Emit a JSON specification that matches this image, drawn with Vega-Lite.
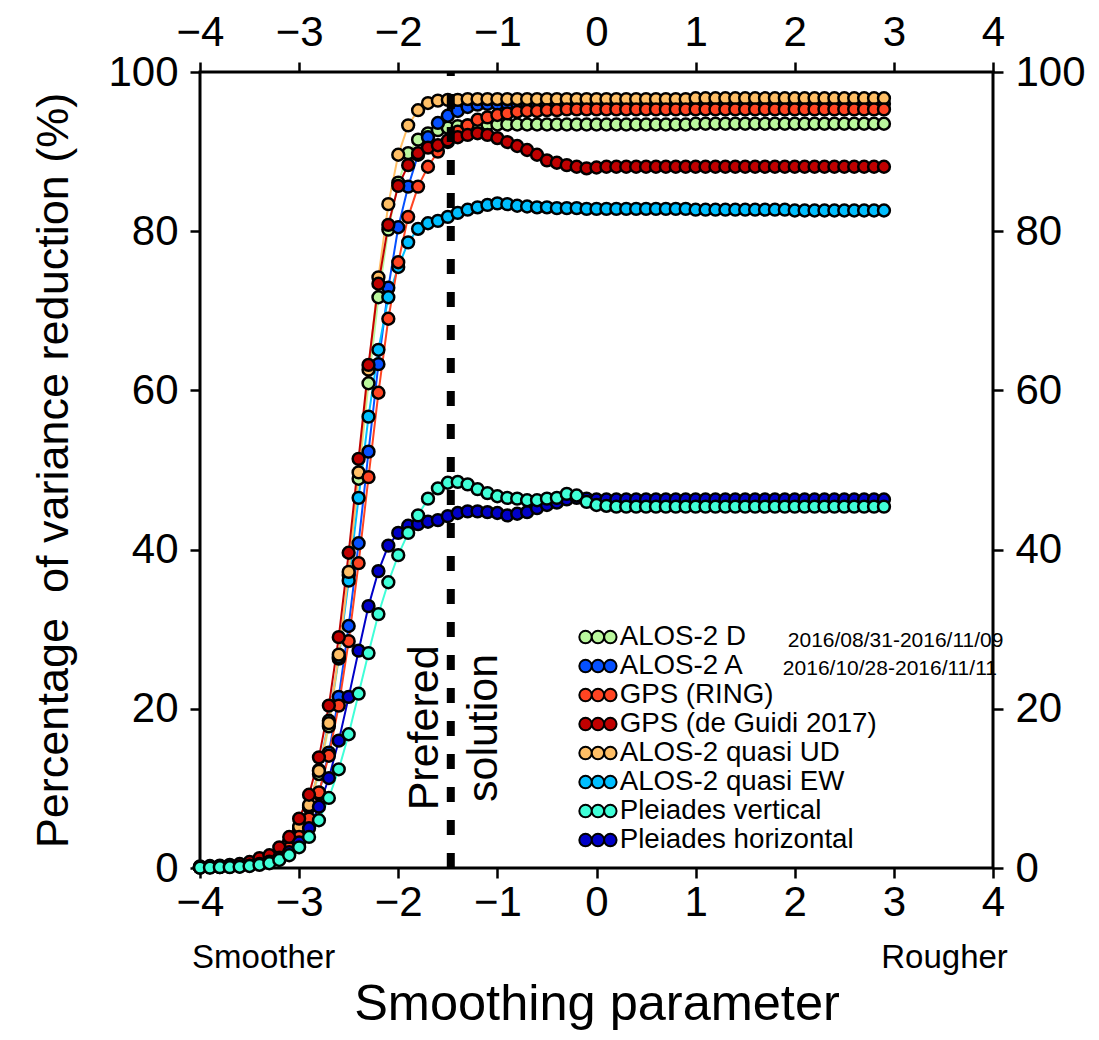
{
  "$schema": "https://vega.github.io/schema/vega-lite/v6.json",
  "width": 793,
  "height": 796,
  "autosize": {"type": "none"},
  "padding": {"left": 200, "top": 72, "right": 106, "bottom": 172},
  "config": {
    "font": "Liberation Sans",
    "view": {"stroke": "black", "strokeWidth": 3},
    "axis": {
      "domain": false,
      "grid": false,
      "tickColor": "black",
      "tickSize": 10,
      "tickWidth": 2.5,
      "labelColor": "black",
      "labelFont": "Liberation Sans",
      "labelFontSize": 42,
      "titleColor": "black",
      "titleFont": "Liberation Sans",
      "titleFontWeight": "normal",
      "labelFlush": false,
      "labelOverlap": false
    },
    "legend": {
      "orient": "none",
      "title": null,
      "padding": 0,
      "symbolStrokeColor": "black",
      "symbolStrokeWidth": 2,
      "symbolOpacity": 1,
      "labelFont": "Liberation Sans",
      "labelColor": "black",
      "labelLimit": 0
    }
  },
  "data": {
    "values": [
      {"series": "ALOS-2 D",
       "x": [-4,-3.9,-3.8,-3.7,-3.6,-3.5,-3.4,-3.3,-3.2,-3.1,-3,-2.9,-2.8,-2.7,-2.6,-2.5,-2.4,-2.3,-2.2,-2.1,-2,-1.9,-1.8,-1.7,-1.6,-1.5,-1.4,-1.3,-1.2,-1.1,-1,-0.9,-0.8,-0.7,-0.6,-0.5,-0.4,-0.3,-0.2,-0.1,0,0.1,0.2,0.3,0.4,0.5,0.6,0.7,0.8,0.9,1,1.1,1.2,1.3,1.4,1.5,1.6,1.7,1.8,1.9,2,2.1,2.2,2.3,2.4,2.5,2.6,2.7,2.8,2.9],
       "vr": [0.1,0.15,0.2,0.25,0.35,0.5,0.8,1.2,2.0,3.2, 5.0,7.6,11.8,17.8,26.3,36.8,48.9,60.9,71.7,80.2, 86.1,89.8,91.5,92.3,92.7,93.0,93.2,93.3,93.4,93.4, 93.4,93.4,93.4,93.4,93.4,93.4,93.4,93.4,93.4,93.4, 93.4,93.4,93.4,93.4,93.4,93.4,93.4,93.4,93.4,93.4, 93.5,93.5,93.5,93.5,93.5,93.5,93.5,93.5,93.5,93.5, 93.5,93.5,93.5,93.5,93.5,93.5,93.5,93.5,93.5,93.5]},
      {"series": "ALOS-2 A",
       "x": [-4,-3.9,-3.8,-3.7,-3.6,-3.5,-3.4,-3.3,-3.2,-3.1,-3,-2.9,-2.8,-2.7,-2.6,-2.5,-2.4,-2.3,-2.2,-2.1,-2,-1.9,-1.8,-1.7,-1.6,-1.5,-1.4,-1.3,-1.2,-1.1,-1,-0.9,-0.8,-0.7,-0.6,-0.5,-0.4,-0.3,-0.2,-0.1,0,0.1,0.2,0.3,0.4,0.5,0.6,0.7,0.8,0.9,1,1.1,1.2,1.3,1.4,1.5,1.6,1.7,1.8,1.9,2,2.1,2.2,2.3,2.4,2.5,2.6,2.7,2.8,2.9],
       "vr": [0.1,0.1,0.15,0.2,0.25,0.35,0.55,0.9,1.4,2.3, 3.7,5.9,9.3,14.5,21.5,30.4,40.8,52.3,63.3,72.9, 80.5,85.6,89.6,91.8,93.6,94.5,95.1,95.6,95.9,96.0, 96.0,96.0,96.0,96.0,96.0,96.0,96.0,96.0,96.0,96.0, 96.0,96.0,96.0,96.0,96.0,96.0,96.0,96.0,96.0,96.0, 96.0,96.0,96.0,96.0,96.0,96.0,96.0,96.0,96.0,96.0, 96.0,96.0,96.0,96.0,96.0,96.0,96.0,96.0,96.0,96.0]},
      {"series": "ALOS-2 quasi EW",
       "x": [-4,-3.9,-3.8,-3.7,-3.6,-3.5,-3.4,-3.3,-3.2,-3.1,-3,-2.9,-2.8,-2.7,-2.6,-2.5,-2.4,-2.3,-2.2,-2.1,-2,-1.9,-1.8,-1.7,-1.6,-1.5,-1.4,-1.3,-1.2,-1.1,-1,-0.9,-0.8,-0.7,-0.6,-0.5,-0.4,-0.3,-0.2,-0.1,0,0.1,0.2,0.3,0.4,0.5,0.6,0.7,0.8,0.9,1,1.1,1.2,1.3,1.4,1.5,1.6,1.7,1.8,1.9,2,2.1,2.2,2.3,2.4,2.5,2.6,2.7,2.8,2.9],
       "vr": [0.1,0.1,0.15,0.2,0.3,0.45,0.7,1.2,1.9,3.1, 5.0,7.8,12.3,18.5,26.5,36.1,46.5,56.7,65.1,71.7, 75.5,78.6,80.3,81.0,81.3,81.8,82.3,82.7,83.0,83.3, 83.5,83.4,83.2,83.1,83.0,83.0,82.9,82.9,82.9,82.8, 82.8,82.8,82.8,82.8,82.8,82.8,82.8,82.8,82.8,82.8, 82.7,82.7,82.7,82.7,82.7,82.7,82.7,82.7,82.7,82.7, 82.6,82.6,82.6,82.6,82.6,82.6,82.6,82.6,82.6,82.6]},
      {"series": "ALOS-2 quasi UD",
       "x": [-4,-3.9,-3.8,-3.7,-3.6,-3.5,-3.4,-3.3,-3.2,-3.1,-3,-2.9,-2.8,-2.7,-2.6,-2.5,-2.4,-2.3,-2.2,-2.1,-2,-1.9,-1.8,-1.7,-1.6,-1.5,-1.4,-1.3,-1.2,-1.1,-1,-0.9,-0.8,-0.7,-0.6,-0.5,-0.4,-0.3,-0.2,-0.1,0,0.1,0.2,0.3,0.4,0.5,0.6,0.7,0.8,0.9,1,1.1,1.2,1.3,1.4,1.5,1.6,1.7,1.8,1.9,2,2.1,2.2,2.3,2.4,2.5,2.6,2.7,2.8,2.9],
       "vr": [0.1,0.15,0.2,0.25,0.35,0.5,0.8,1.3,2.0,3.3, 5.2,7.9,12.2,18.2,26.8,37.2,49.7,62.6,74.2,83.4, 89.6,93.3,95.2,96.1,96.4,96.5,96.5,96.6,96.6,96.6, 96.6,96.6,96.6,96.6,96.6,96.6,96.6,96.6,96.6,96.6, 96.6,96.6,96.6,96.6,96.6,96.6,96.6,96.6,96.6,96.6, 96.7,96.7,96.7,96.7,96.7,96.7,96.7,96.7,96.7,96.7, 96.7,96.7,96.7,96.7,96.7,96.7,96.7,96.7,96.7,96.7]},
      {"series": "GPS (RING)",
       "x": [-4,-3.9,-3.8,-3.7,-3.6,-3.5,-3.4,-3.3,-3.2,-3.1,-3,-2.9,-2.8,-2.7,-2.6,-2.5,-2.4,-2.3,-2.2,-2.1,-2,-1.9,-1.8,-1.7,-1.6,-1.5,-1.4,-1.3,-1.2,-1.1,-1,-0.9,-0.8,-0.7,-0.6,-0.5,-0.4,-0.3,-0.2,-0.1,0,0.1,0.2,0.3,0.4,0.5,0.6,0.7,0.8,0.9,1,1.1,1.2,1.3,1.4,1.5,1.6,1.7,1.8,1.9,2,2.1,2.2,2.3,2.4,2.5,2.6,2.7,2.8,2.9],
       "vr": [0.1,0.15,0.2,0.25,0.35,0.45,0.6,0.9,1.4,2.5, 3.9,6.2,9.5,14.1,20.4,28.5,38.3,49.1,59.7,69.0, 76.1,81.8,85.6,88.1,90.0,91.2,92.5,93.3,94.0,94.3, 94.6,94.8,95.0,95.1,95.1,95.2,95.2,95.3,95.3,95.3, 95.3,95.3,95.3,95.3,95.3,95.3,95.3,95.3,95.3,95.3, 95.3,95.3,95.3,95.3,95.3,95.3,95.3,95.3,95.3,95.3, 95.3,95.3,95.3,95.3,95.3,95.3,95.3,95.3,95.3,95.3]},
      {"series": "GPS (de Guidi 2017)",
       "x": [-4,-3.9,-3.8,-3.7,-3.6,-3.5,-3.4,-3.3,-3.2,-3.1,-3,-2.9,-2.8,-2.7,-2.6,-2.5,-2.4,-2.3,-2.2,-2.1,-2,-1.9,-1.8,-1.7,-1.6,-1.5,-1.4,-1.3,-1.2,-1.1,-1,-0.9,-0.8,-0.7,-0.6,-0.5,-0.4,-0.3,-0.2,-0.1,0,0.1,0.2,0.3,0.4,0.5,0.6,0.7,0.8,0.9,1,1.1,1.2,1.3,1.4,1.5,1.6,1.7,1.8,1.9,2,2.1,2.2,2.3,2.4,2.5,2.6,2.7,2.8,2.9],
       "vr": [0.2,0.25,0.3,0.4,0.5,0.75,1.25,1.6,2.6,3.9, 6.2,9.2,13.9,20.4,29.0,39.6,51.4,63.2,73.4,80.8, 85.7,88.3,89.8,90.5,90.8,91.4,91.8,92.1,92.3,92.1, 91.7,91.2,90.7,90.2,89.6,88.9,88.6,88.3,88.1,87.9, 88.0,88.1,88.1,88.1,88.1,88.1,88.1,88.1,88.1,88.1, 88.1,88.1,88.1,88.1,88.1,88.1,88.1,88.1,88.1,88.1, 88.1,88.1,88.1,88.1,88.1,88.1,88.1,88.1,88.1,88.1]},
      {"series": "Pleiades horizontal",
       "x": [-4,-3.9,-3.8,-3.7,-3.6,-3.5,-3.4,-3.3,-3.2,-3.1,-3,-2.9,-2.8,-2.7,-2.6,-2.5,-2.4,-2.3,-2.2,-2.1,-2,-1.9,-1.8,-1.7,-1.6,-1.5,-1.4,-1.3,-1.2,-1.1,-1,-0.9,-0.8,-0.7,-0.6,-0.5,-0.4,-0.3,-0.2,-0.1,0,0.1,0.2,0.3,0.4,0.5,0.6,0.7,0.8,0.9,1,1.1,1.2,1.3,1.4,1.5,1.6,1.7,1.8,1.9,2,2.1,2.2,2.3,2.4,2.5,2.6,2.7,2.8,2.9],
       "vr": [0.05,0.1,0.1,0.15,0.2,0.3,0.5,0.8,1.3,2.0, 3.2,5.0,7.7,11.3,16.0,21.5,27.3,32.9,37.3,40.5, 42.1,43.0,43.2,43.5,43.7,44.2,44.6,44.8,44.8,44.7, 44.6,44.3,44.5,44.7,45.2,45.6,45.9,46.3,46.5,46.4, 46.3,46.3,46.3,46.3,46.3,46.3,46.3,46.3,46.3,46.3, 46.3,46.3,46.3,46.3,46.3,46.3,46.3,46.3,46.3,46.3, 46.3,46.3,46.3,46.3,46.3,46.3,46.3,46.3,46.3,46.3]},
      {"series": "Pleiades vertical",
       "x": [-4,-3.9,-3.8,-3.7,-3.6,-3.5,-3.4,-3.3,-3.2,-3.1,-3,-2.9,-2.8,-2.7,-2.6,-2.5,-2.4,-2.3,-2.2,-2.1,-2,-1.9,-1.8,-1.7,-1.6,-1.5,-1.4,-1.3,-1.2,-1.1,-1,-0.9,-0.8,-0.7,-0.6,-0.5,-0.4,-0.3,-0.2,-0.1,0,0.1,0.2,0.3,0.4,0.5,0.6,0.7,0.8,0.9,1,1.1,1.2,1.3,1.4,1.5,1.6,1.7,1.8,1.9,2,2.1,2.2,2.3,2.4,2.5,2.6,2.7,2.8,2.9],
       "vr": [0.05,0.05,0.1,0.1,0.15,0.25,0.4,0.6,1.0,1.6, 2.6,3.9,6.0,8.8,12.4,16.8,21.9,27.0,31.9,35.9, 39.3,42.1,44.3,46.4,47.7,48.4,48.5,48.2,47.6,47.1, 46.7,46.5,46.4,46.2,46.2,46.4,46.5,47.0,46.8,46.0, 45.6,45.5,45.4,45.4,45.4,45.4,45.4,45.4,45.4,45.4, 45.4,45.4,45.4,45.4,45.4,45.4,45.4,45.4,45.4,45.4, 45.4,45.4,45.4,45.4,45.4,45.4,45.4,45.4,45.4,45.4]}
    ]
  },
  "transform": [{"flatten": ["x", "vr"]}],
  "layer": [
    {
      "mark": {"type": "line", "strokeWidth": 2, "clip": true},
      "encoding": {
        "x": {"field": "x", "type": "quantitative",
              "scale": {"domain": [-4, 4], "nice": false, "zero": false},
              "axis": {"orient": "bottom", "values": [-4,-3,-2,-1,0,1,2,3,4], "format": "d",
                       "title": "Smoothing parameter", "titleFontSize": 50.5, "titlePadding": 56, "labelPadding": 4}},
        "y": {"field": "vr", "type": "quantitative",
              "scale": {"domain": [0, 100], "nice": false, "zero": false},
              "axis": {"orient": "left", "values": [0,20,40,60,80,100], "format": "d",
                       "title": "Percentage\u00a0 of variance reduction (%)", "titleFontSize": 45, "titlePadding": 31, "labelPadding": 12}},
        "stroke": {"field": "series", "type": "nominal",
                   "scale": {"domain": ["ALOS-2 A","ALOS-2 D","ALOS-2 quasi EW","ALOS-2 quasi UD","GPS (RING)","GPS (de Guidi 2017)","Pleiades horizontal","Pleiades vertical"],
                             "range": ["#0550ff","#baf79d","#00bfff","#ffbf66","#ff4422","#c00000","#0000c8","#40ffd8"]},
                   "legend": null}
      }
    },
    {
      "mark": {"type": "circle", "size": 140, "opacity": 1, "stroke": "black", "strokeWidth": 2.5},
      "encoding": {
        "x": {"field": "x", "type": "quantitative", "scale": {"domain": [-4, 4], "nice": false, "zero": false}, "axis": null},
        "y": {"field": "vr", "type": "quantitative", "scale": {"domain": [0, 100], "nice": false, "zero": false}, "axis": null},
        "color": {"field": "series", "type": "nominal",
                  "scale": {"domain": ["ALOS-2 D","ALOS-2 A","GPS (RING)","GPS (de Guidi 2017)","ALOS-2 quasi UD","ALOS-2 quasi EW","Pleiades vertical","Pleiades horizontal"],
                            "range": ["#baf79d","#0550ff","#ff4422","#c00000","#ffbf66","#00bfff","#40ffd8","#0000c8"]},
                  "legend": {"orient": "none", "legendX": 396.5, "legendY": 551.2, "title": null, "padding": 0,
                             "symbolType": "M -5,0 A 1,1 0 1,1 -3,0 A 1,1 0 1,1 -5,0 Z M -3,0 A 1,1 0 1,1 -1,0 A 1,1 0 1,1 -3,0 Z M -1,0 A 1,1 0 1,1 1,0 A 1,1 0 1,1 -1,0 Z",
                             "symbolSize": 154, "labelFontSize": 27.7, "labelOffset": -4.5, "labelLimit": 0, "rowPadding": 0,
                             "encode": {"symbols": {"update": {"stroke": {"value": "black"}, "strokeWidth": {"value": 2}, "opacity": {"value": 1}}}}}}
      }
    },
    {
      "data": {"values": [{}]},
      "mark": {"type": "rule", "strokeDash": [15, 18], "strokeWidth": 8, "color": "black"},
      "encoding": {
        "x": {"datum": -1.47, "type": "quantitative", "scale": {"domain": [-4, 4], "nice": false, "zero": false},
              "axis": {"orient": "top", "values": [-4,-3,-2,-1,0,1,2,3,4], "format": "d", "title": null, "labelPadding": 8}},
        "y": {"datum": 0, "type": "quantitative", "scale": {"domain": [0, 100], "nice": false, "zero": false},
              "axis": {"orient": "right", "values": [0,20,40,60,80,100], "format": "d", "title": null, "labelPadding": 12}},
        "y2": {"datum": 100}
      }
    },
    {
      "data": {"values": [{"t": "Prefered", "px": -1.6}, {"t": "solution", "px": -1.0}]},
      "mark": {"type": "text", "angle": 270, "align": "center", "baseline": "alphabetic", "fontSize": 43, "font": "Liberation Sans", "color": "black"},
      "encoding": {
        "text": {"field": "t"},
        "x": {"field": "px", "type": "quantitative", "scale": {"domain": [-4, 4], "nice": false, "zero": false}, "axis": null},
        "y": {"datum": 17.6, "type": "quantitative", "scale": {"domain": [0, 100], "nice": false, "zero": false}, "axis": null}
      }
    },
    {
      "data": {"values": [{"t": "2016/08/31-2016/11/09", "px": 1.93, "py": 27.76}, {"t": "2016/10/28-2016/11/11", "px": 1.88, "py": 24.25}]},
      "mark": {"type": "text", "align": "left", "baseline": "alphabetic", "fontSize": 21, "font": "Liberation Sans", "color": "black"},
      "encoding": {
        "text": {"field": "t"},
        "x": {"field": "px", "type": "quantitative", "scale": {"domain": [-4, 4], "nice": false, "zero": false}, "axis": null},
        "y": {"field": "py", "type": "quantitative", "scale": {"domain": [0, 100], "nice": false, "zero": false}, "axis": null}
      }
    },
    {
      "data": {"values": [{"t": "Smoother", "px": -4.08, "al": "left"}, {"t": "Rougher", "px": 4.15, "al": "right"}]},
      "mark": {"type": "text", "baseline": "alphabetic", "fontSize": 33, "font": "Liberation Sans", "color": "black", "align": {"expr": "datum.al"}},
      "encoding": {
        "text": {"field": "t"},
        "x": {"field": "px", "type": "quantitative", "scale": {"domain": [-4, 4], "nice": false, "zero": false}, "axis": null},
        "y": {"datum": -12.6, "type": "quantitative", "scale": {"domain": [0, 100], "nice": false, "zero": false}, "axis": null}
      }
    }
  ],
  "resolve": {"axis": {"x": "independent", "y": "independent"}}
}
